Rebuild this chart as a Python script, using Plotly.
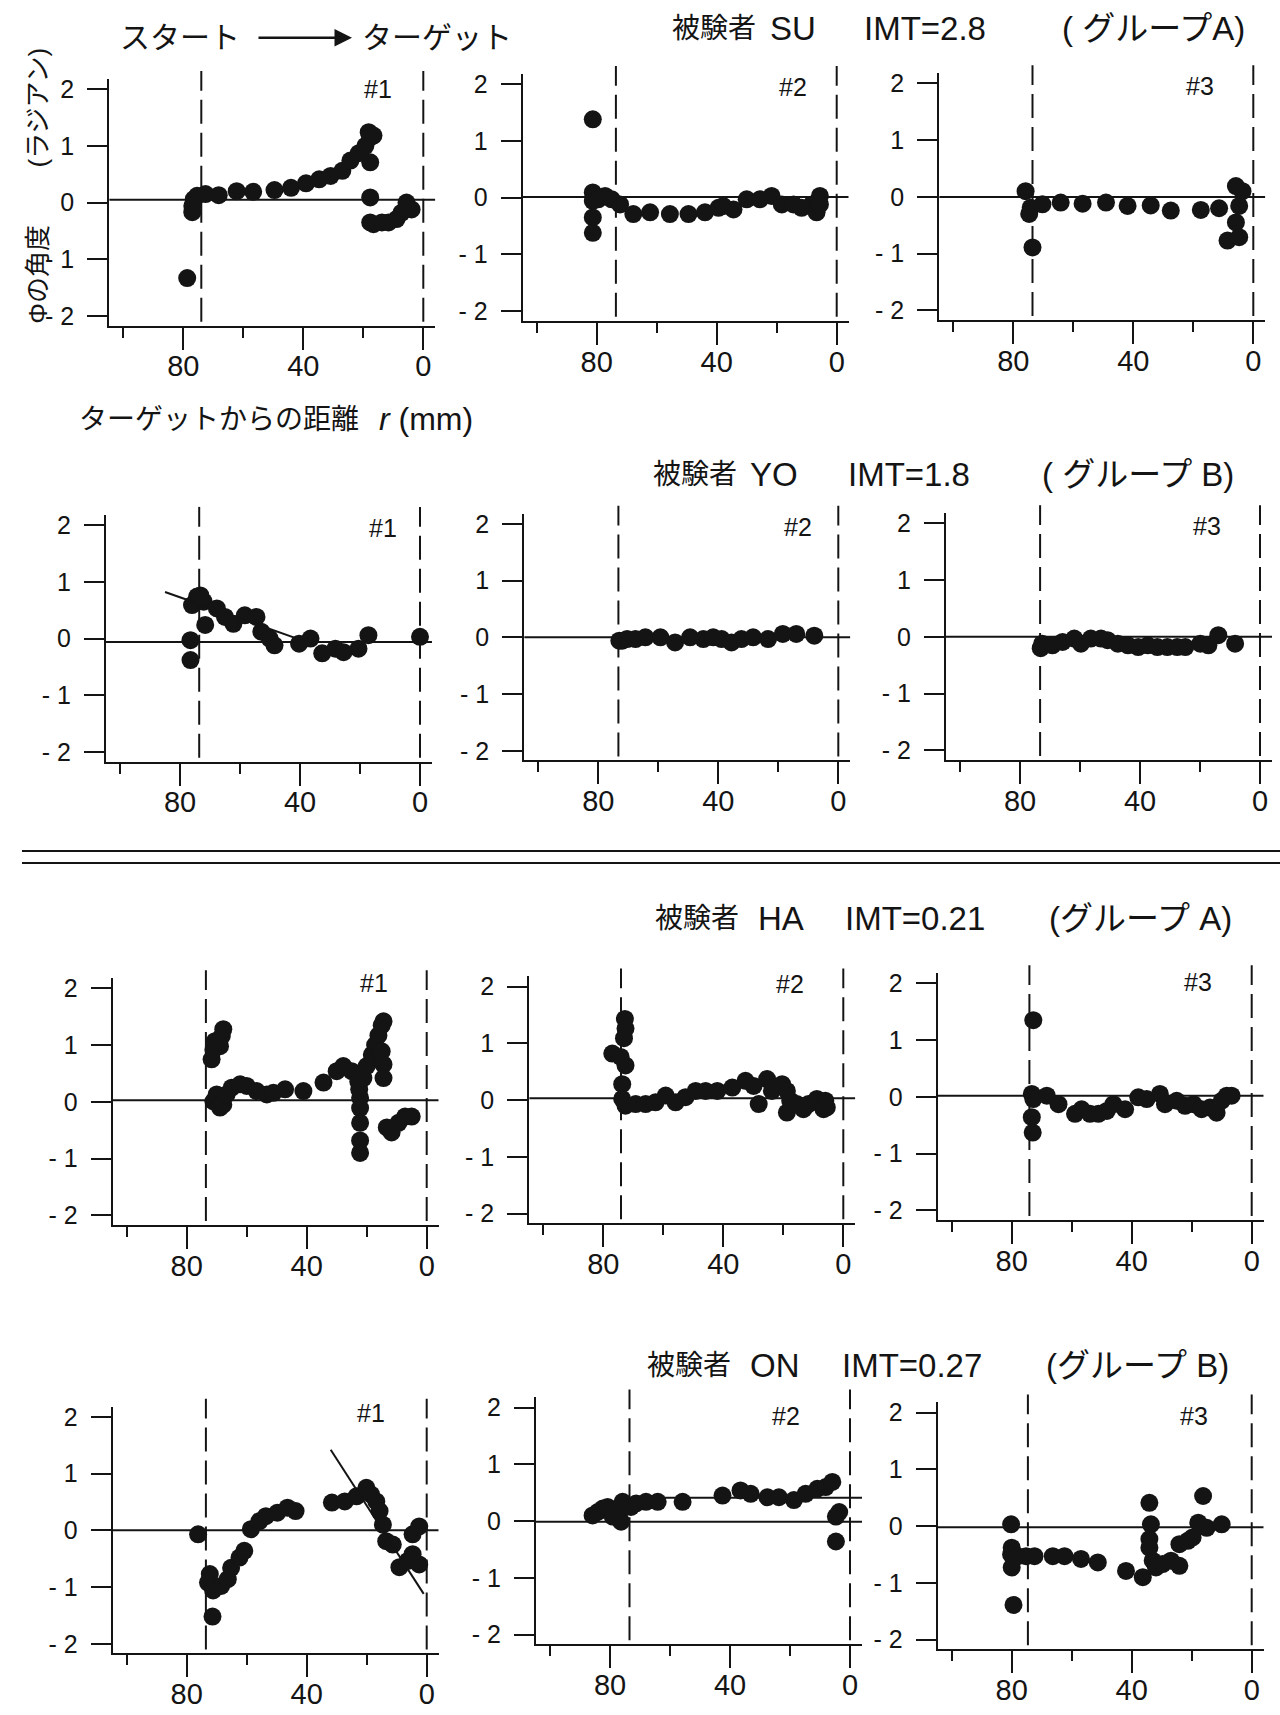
import plotly.graph_objects as go

W, H = 1280, 1715

# ---------------- data (r = distance to target [mm], phi = angle [rad]) ----------------
SU1_r = [78.7, 77.0, 77.0, 76.5, 75.4, 72.6, 68.2, 62.2, 56.7, 49.6, 44.1, 39.1, 34.7, 30.9, 27.0, 24.3,
         21.5, 19.3, 18.2, 17.7, 16.6, 17.7, 17.7, 17.7, 16.6, 13.8, 11.6, 8.9, 7.3, 5.6, 3.9]
SU1_phi = [-1.33, -0.17, -0.06, 0.06, 0.12, 0.15, 0.13, 0.20, 0.19, 0.22, 0.26, 0.34, 0.41, 0.47, 0.56, 0.74,
           0.87, 1.00, 1.24, 1.15, 1.18, 0.71, 0.09, -0.35, -0.38, -0.35, -0.35, -0.29, -0.18, 0.00, -0.12]

SU2_r = [81.3, 81.3, 81.3, 81.3, 81.3, 79.5, 77.2, 75.0, 72.2, 67.8, 62.2, 55.6, 49.4, 43.9, 39.4, 37.8,
         34.4, 30.0, 25.6, 21.7, 18.3, 14.4, 11.7, 8.3, 6.7, 5.6, 5.6, 6.1]
SU2_phi = [1.38, 0.09, -0.06, -0.35, -0.62, -0.03, 0.03, -0.03, -0.12, -0.29, -0.26, -0.29, -0.29, -0.26, -0.18, -0.15,
           -0.21, -0.03, -0.03, 0.03, -0.12, -0.12, -0.18, -0.12, -0.26, 0.03, -0.12, -0.06]

SU3_r = [75.9, 74.2, 74.7, 73.6, 70.3, 64.2, 56.9, 49.1, 41.9, 34.2, 27.5, 17.5, 11.4, 5.8, 3.6, 4.7, 5.8, 8.6, 4.7]
SU3_phi = [0.10, -0.19, -0.30, -0.89, -0.13, -0.10, -0.12, -0.10, -0.16, -0.15, -0.24, -0.23, -0.20, 0.19, 0.10,
           -0.16, -0.45, -0.77, -0.71]

YO1_r = [76.5, 76.5, 76.0, 74.3, 73.2, 72.1, 71.6, 67.7, 65.0, 62.2, 58.4, 54.5, 52.9, 50.1, 48.5, 40.3,
         36.5, 32.6, 28.2, 25.5, 20.5, 17.2, 0.0]
YO1_phi = [-0.03, -0.38, 0.59, 0.74, 0.76, 0.65, 0.24, 0.53, 0.38, 0.26, 0.41, 0.38, 0.12, 0.00, -0.12, -0.09,
           0.00, -0.26, -0.18, -0.24, -0.18, 0.06, 0.03]
YO1_fit_r = [85.0, 40.0]
YO1_fit_phi = [0.82, -0.02]

YO2_r = [73.0, 72.0, 70.4, 67.6, 64.3, 59.3, 54.4, 49.4, 45.0, 41.7, 38.9, 35.6, 32.3, 28.4, 23.4, 18.5, 14.0, 8.0]
YO2_phi = [-0.06, -0.06, -0.03, -0.03, 0.00, 0.00, -0.09, 0.00, -0.03, 0.00, -0.03, -0.09, -0.03, 0.00, -0.03,
           0.06, 0.06, 0.03]

YO3_r = [73.1, 72.6, 69.2, 65.8, 61.9, 59.7, 56.4, 53.0, 50.8, 47.4, 44.0, 40.6, 37.4, 34.2, 30.9, 27.6,
         24.9, 19.9, 17.2, 13.9, 8.3]
YO3_phi = [-0.20, -0.12, -0.15, -0.09, -0.03, -0.12, -0.03, -0.03, -0.06, -0.12, -0.15, -0.18, -0.15, -0.18,
           -0.18, -0.18, -0.18, -0.12, -0.15, 0.03, -0.12]

HA1_r = [71.7, 71.1, 70.6, 68.9, 68.3, 67.8, 71.1, 70.0, 68.9, 67.8, 66.7, 65.0, 62.2, 60.0, 56.7, 53.3,
         51.1, 47.2, 41.1, 34.4, 30.0, 27.8, 25.0, 22.8, 22.5, 22.2, 22.2, 22.2, 22.2, 22.2, 21.1, 20.0,
         18.3, 17.2, 16.1, 15.0, 14.4, 15.0, 14.4, 14.4, 13.3, 11.7, 9.4, 7.2, 5.0]
HA1_phi = [0.75, 0.92, 1.07, 0.98, 1.16, 1.28, 0.01, 0.13, -0.10, -0.05, 0.13, 0.25, 0.31, 0.28, 0.19, 0.13,
           0.16, 0.22, 0.19, 0.34, 0.54, 0.63, 0.54, 0.36, 0.22, 0.07, -0.11, -0.37, -0.68, -0.90, 0.42, 0.63,
           0.83, 1.00, 1.17, 1.35, 1.42, 0.89, 0.66, 0.42, -0.45, -0.54, -0.37, -0.26, -0.26]

HA2_r = [72.8, 72.6, 73.1, 77.0, 74.2, 72.6, 73.7, 73.7, 72.6, 69.2, 65.9, 62.6, 59.2, 55.9, 52.6, 49.2,
         45.9, 42.0, 37.0, 32.6, 29.9, 28.2, 25.4, 23.8, 20.4, 18.8, 18.8, 17.7, 15.5, 13.3, 11.6, 8.8,
         6.6, 6.0, 5.5]
HA2_phi = [1.43, 1.26, 1.09, 0.82, 0.76, 0.61, 0.28, 0.02, -0.10, -0.07, -0.07, -0.04, 0.08, -0.04, 0.05, 0.16,
           0.16, 0.16, 0.22, 0.34, 0.25, -0.07, 0.37, 0.16, 0.28, 0.16, -0.22, -0.01, -0.07, -0.16, -0.07, 0.02,
           -0.16, -0.01, -0.13]

HA3_r = [72.8, 73.3, 72.8, 73.3, 73.0, 68.3, 64.4, 58.9, 56.7, 53.9, 51.1, 48.3, 46.1, 42.2, 37.8, 35.0,
         30.6, 28.9, 25.0, 22.2, 19.4, 16.7, 13.9, 11.7, 10.0, 8.3, 6.7]
HA3_phi = [1.35, 0.05, -0.04, -0.36, -0.63, 0.02, -0.13, -0.30, -0.22, -0.30, -0.30, -0.25, -0.13, -0.22,
           -0.01, -0.04, 0.05, -0.13, -0.07, -0.16, -0.13, -0.22, -0.19, -0.28, -0.07, 0.02, 0.02]

ON1_r = [76.2, 72.3, 72.9, 71.2, 71.4, 68.5, 66.3, 65.2, 62.4, 60.8, 58.6, 55.8, 53.6, 49.8, 46.4, 43.7,
         31.6, 27.3, 23.4, 20.1, 18.5, 16.8, 15.7, 14.6, 13.5, 11.3, 9.1, 6.3, 4.7, 2.5, 4.7, 2.5]
ON1_phi = [-0.07, -0.77, -0.92, -1.06, -1.52, -0.98, -0.86, -0.66, -0.48, -0.36, 0.02, 0.16, 0.25, 0.31, 0.40,
           0.34, 0.49, 0.51, 0.60, 0.75, 0.63, 0.51, 0.34, 0.10, -0.19, -0.25, -0.65, -0.54, -0.42, -0.60,
           -0.07, 0.07]
ON1_fit_r = [32.0, 1.0]
ON1_fit_phi = [1.42, -1.12]

ON2_r = [85.8, 84.1, 82.4, 80.8, 79.1, 76.3, 76.9, 75.8, 73.0, 71.3, 68.0, 64.1, 55.8, 42.5, 36.5, 33.1,
         27.5, 23.7, 18.7, 14.8, 10.9, 8.1, 5.9, 3.6, 4.7, 4.7]
ON2_phi = [0.10, 0.16, 0.22, 0.25, 0.08, -0.01, 0.16, 0.34, 0.25, 0.31, 0.34, 0.34, 0.34, 0.45, 0.54, 0.48,
           0.42, 0.42, 0.37, 0.48, 0.57, 0.60, 0.69, 0.16, 0.08, -0.36]
ON2_mean_r = [76.0, -4.0]
ON2_mean_phi = [0.41, 0.41]

ON3_r = [80.2, 80.0, 80.2, 80.0, 79.4, 78.0, 75.2, 72.4, 66.3, 62.4, 56.9, 51.3, 41.9, 36.3, 34.1, 33.6,
         34.1, 34.1, 33.0, 31.9, 29.7, 26.9, 24.1, 24.1, 21.3, 19.7, 17.8, 16.2, 15.0, 10.0]
ON3_phi = [0.03, -0.38, -0.50, -0.73, -1.39, -0.53, -0.53, -0.53, -0.53, -0.53, -0.58, -0.64, -0.79, -0.90,
           0.41, 0.03, -0.23, -0.38, -0.61, -0.73, -0.67, -0.61, -0.70, -0.32, -0.26, -0.20, 0.06, 0.53,
           -0.03, 0.03]

start_r = [74.0, 73.6, 73.6, 73.6, 73.3, 73.3, 73.6, 74.1, 74.1, 73.6, 73.5, 74.6]
trial_labels = ["#1", "#2", "#3"] * 4
x_tickvals = [80, 40, 0]
x_ticktext = ["80", "40", "0"]
y_tickvals = [-2, -1, 0, 1, 2]
y_ticktext = ["- 2", "- 1", "0", "1", "2"]

panel_r = [SU1_r, SU2_r, SU3_r, YO1_r, YO2_r, YO3_r, HA1_r, HA2_r, HA3_r, ON1_r, ON2_r, ON3_r]
panel_phi = [SU1_phi, SU2_phi, SU3_phi, YO1_phi, YO2_phi, YO3_phi, HA1_phi, HA2_phi, HA3_phi,
             ON1_phi, ON2_phi, ON3_phi]

# ---------------- layout geometry (pixels) ----------------
PX_X = 3.0     # px per mm
PX_Y = 57.0    # px per rad
XR = [104.7, -4.0]
YR = [-2.17, 2.18]
anchors = [(423.3, 199.5), (836.7, 194.5), (1253.3, 193.8),
           (420.0, 637.5), (838.3, 636.3), (1260.0, 635.8),
           (426.7, 1103.0), (843.3, 1101.2), (1251.7, 1097.9),
           (426.7, 1533.5), (850.0, 1524.2), (1251.7, 1529.2)]
baseline = [0.05, 0.01, 0.0, -0.06, 0.0, 0.0, 0.03, 0.03, 0.02, 0.0, -0.01, -0.02]
label_pos = [(15.2, 2.0), (14.5, 1.95), (17.8, 1.95), (12.5, 1.95), (13.3, 1.95), (17.8, 1.95),
             (17.5, 2.1), (17.8, 2.05), (17.9, 2.03), (18.5, 2.07), (21.3, 1.85), (19.1, 1.94)]

INK = "#141414"
SANS = "Liberation Sans, Arial, sans-serif"
TICKFONT = dict(family=SANS, size=25, color=INK)
JP = "Liberation Sans, Noto Sans CJK JP, sans-serif"

fig = go.Figure()
layout = dict(width=W, height=H, margin=dict(l=0, r=0, t=0, b=0), autosize=False,
              paper_bgcolor="white", plot_bgcolor="white", showlegend=False)
shapes = []
annotations = []


def fx(px):
    return px / W


def fy(py):
    return 1 - py / H


for i in range(12):
    k = i + 1
    sfx = "" if k == 1 else str(k)
    X0, Y0 = anchors[i]
    xd = [fx(X0 - XR[0] * PX_X), fx(X0 - XR[1] * PX_X)]
    yd = [fy(Y0 - YR[0] * PX_Y), fy(Y0 - YR[1] * PX_Y)]
    layout["xaxis" + sfx] = dict(
        domain=xd, range=XR, anchor="y" + sfx, showline=True, linecolor=INK, linewidth=2,
        tickmode="array", tickvals=x_tickvals, ticktext=x_ticktext, ticks="outside",
        ticklen=22, tickwidth=2, tickcolor=INK, tickfont=dict(TICKFONT, size=29),
        minor=dict(tickmode="array", tickvals=[100, 60, 20], ticks="outside", ticklen=10,
                   tickwidth=2, tickcolor=INK),
        showgrid=False, zeroline=False, ticklabelstandoff=-8, fixedrange=True)
    layout["yaxis" + sfx] = dict(
        domain=yd, range=YR, anchor="x" + sfx, showline=True, linecolor=INK, linewidth=2,
        tickmode="array", tickvals=y_tickvals, ticktext=y_ticktext, ticks="outside",
        ticklen=20, tickwidth=2, tickcolor=INK, tickfont=TICKFONT,
        showgrid=False, zeroline=False, ticklabelstandoff=8, fixedrange=True)

    xa, ya = "x" + sfx, "y" + sfx
    shapes.append(dict(type="line", xref=xa, yref=ya, x0=XR[0], x1=XR[1],
                       y0=baseline[i], y1=baseline[i], line=dict(color=INK, width=2)))
    for rv in (start_r[i], 0.0):
        shapes.append(dict(type="line", xref=xa, yref="paper", x0=rv, x1=rv,
                           y0=fy(Y0 + 2.1 * PX_Y), y1=fy(Y0 - 2.32 * PX_Y),
                           line=dict(color=INK, width=2, dash="24px,9px")))

    fig.add_trace(go.Scatter(x=panel_r[i], y=panel_phi[i], mode="markers", xaxis=xa, yaxis=ya,
                             marker=dict(size=18, color=INK, line=dict(width=0)), hoverinfo="x+y"))
    lx, ly = label_pos[i]
    annotations.append(dict(x=lx, y=ly, xref=xa, yref=ya, text=trial_labels[i], showarrow=False,
                            font=dict(family=SANS, size=25, color=INK)))

fig.add_trace(go.Scatter(x=YO1_fit_r, y=YO1_fit_phi, mode="lines", xaxis="x4", yaxis="y4",
                         line=dict(color=INK, width=2), hoverinfo="skip"))
fig.add_trace(go.Scatter(x=ON1_fit_r, y=ON1_fit_phi, mode="lines", xaxis="x10", yaxis="y10",
                         line=dict(color=INK, width=2), hoverinfo="skip"))
fig.add_trace(go.Scatter(x=ON2_mean_r, y=ON2_mean_phi, mode="lines", xaxis="x11", yaxis="y11",
                         line=dict(color=INK, width=2), hoverinfo="skip"))


def txt(text, px, py, size=28, anchor="left", angle=0, family=JP):
    annotations.append(dict(x=fx(px), y=fy(py), xref="paper", yref="paper", text=text,
                            showarrow=False, xanchor=anchor, yanchor="middle", textangle=angle,
                            font=dict(family=family, size=size, color=INK)))


# header pieces: subject, name, IMT (left-anchored), group (right-anchored)
headers = [
    (["被験者", "SU", "IMT=2.8", "( グループA)"], [670, 768, 862, 1247], 25),
    (["被験者", "YO", "IMT=1.8", "( グループ B)"], [651, 748, 846, 1236], 473),
    (["被験者", "HA", "IMT=0.21", "(グループ A)"], [653, 756, 843, 1234], 919),
    (["被験者", "ON", "IMT=0.27", "(グループ B)"], [645, 748, 840, 1231], 1368),
]
for pieces, xs, yy in headers:
    txt(pieces[0], xs[0], yy, size=28)
    txt(pieces[1], xs[1], yy, size=33)
    txt(pieces[2], xs[2], yy, size=33)
    txt(pieces[3], xs[3], yy, size=33, anchor="right")

txt("スタート", 118, 34, size=30)
txt("ターゲット", 360, 34, size=30)
annotations.append(dict(x=fx(352), y=fy(34), xref="paper", yref="paper", ax=-95, ay=0,
                        showarrow=True, arrowhead=2, arrowsize=1.4, arrowwidth=2.5,
                        arrowcolor=INK, text=""))
txt("ターゲットからの距離", 77, 417, size=28)
txt("<i>r</i> (mm)", 377, 417, size=32)
txt("Φの角度", 38, 272, size=26, anchor="center", angle=-90)
txt("(ラジアン)", 38, 104, size=26, anchor="center", angle=-90)

for yy in (851, 863):
    shapes.append(dict(type="line", xref="paper", yref="paper", x0=fx(22), x1=1.0,
                       y0=fy(yy), y1=fy(yy), line=dict(color=INK, width=2)))

layout["shapes"] = shapes
layout["annotations"] = annotations
fig.update_layout(**layout)
fig.write_html("out.html")
